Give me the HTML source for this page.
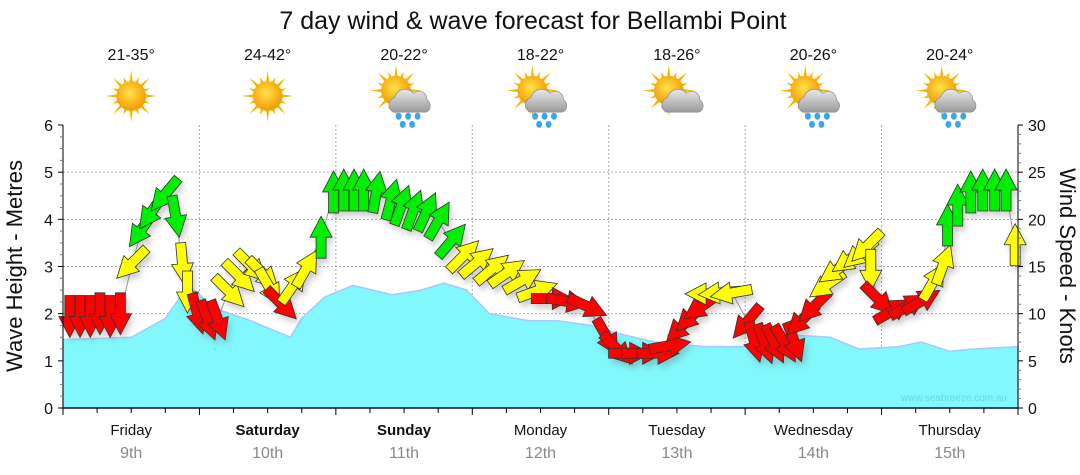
<!DOCTYPE html>
<html><head><meta charset="utf-8"><style>
html,body{margin:0;padding:0;background:#fff;}
svg{display:block;font-family:"Liberation Sans",sans-serif;}
</style></head><body>
<svg id="chart" width="1080" height="475" viewBox="0 0 1080 475">
<defs>
<filter id="sh" x="-50%" y="-50%" width="200%" height="200%"><feGaussianBlur stdDeviation="3"/></filter>
<radialGradient id="sunG" cx="45%" cy="40%" r="60%"><stop offset="0" stop-color="#ffe14a"/><stop offset="1" stop-color="#f29a00"/></radialGradient>
<linearGradient id="cloudG" x1="0" y1="0" x2="0" y2="1"><stop offset="0" stop-color="#e8e8e8"/><stop offset="1" stop-color="#9a9a9a"/></linearGradient>
</defs>
<text x="533" y="29" font-size="25" text-anchor="middle" fill="#111">7 day wind &amp; wave forecast for Bellambi Point</text>
<g id="grid"></g>
<g id="wave"></g>
<g id="wind"></g>
<g id="axes"></g>
<g id="icons"></g>
<text x="1007" y="401" font-size="10" text-anchor="end" fill="#6cd6e0">www.seabreeze.com.au</text>
<text transform="translate(22,266) rotate(-90)" font-size="22" text-anchor="middle" fill="#111">Wave Height - Metres</text>
<text transform="translate(1060,266) rotate(90)" font-size="22" text-anchor="middle" fill="#111">Wind Speed - Knots</text>
</svg>
<script>
const dayNames=["Friday","Saturday","Sunday","Monday","Tuesday","Wednesday","Thursday"];
const dayDates=["9th","10th","11th","12th","13th","14th","15th"];
const dayBold=[false,true,true,false,false,false,false];
const tempRanges=["21-35°","24-42°","20-22°","18-22°","18-26°","20-26°","20-24°"];
const weatherTypes=["sun","sun","rain","rain","cloud","rain","rain"];
const waveTicks=[0,1,2,3,4,5,6];
const windTicks=[0,5,10,15,20,25,30];
const waveHours=[0,12,18,22,27,33,40,42,46,51,58,63,67,71,75,82,87,93,97,104,113,122,128,135,140,147,151,156,160,168];
const waveHeights=[1.45,1.5,1.9,2.6,2.1,1.85,1.5,1.9,2.35,2.6,2.4,2.5,2.65,2.5,2.0,1.85,1.85,1.75,1.6,1.4,1.3,1.3,1.55,1.5,1.25,1.3,1.4,1.2,1.25,1.3];
const windHours=[1.2,3.0,4.8,6.5,8.3,10.1,12.2,13.9,15.7,18.0,19.8,21.0,21.9,23.6,25.4,27.2,29.1,30.9,33.0,35.1,36.2,38.3,40.4,42.7,45.4,47.6,49.4,51.2,52.9,55.1,57.7,59.5,61.6,63.9,66.0,68.3,70.4,72.7,75.4,78.0,80.7,83.3,85.9,88.6,92.1,95.6,97.4,99.5,101.8,104.5,106.6,108.9,110.6,112.4,113.3,115.6,117.7,120.4,121.6,123.4,125.1,126.9,128.6,130.1,132.2,134.5,136.2,138.5,140.3,141.5,142.1,143.3,145.9,148.6,150.9,153.0,154.8,155.6,157.4,159.7,161.8,163.9,165.9,167.5];
const windSpeeds=[9.8,9.8,9.8,10.1,9.8,10.1,15.4,19.0,20.9,22.7,20.4,15.4,12.4,10.1,9.4,9.4,12.4,14.0,15.1,14.3,12.9,11.1,12.9,14.7,18.0,22.8,23.0,23.0,23.0,22.8,22.0,21.4,20.9,20.7,19.8,17.7,16.1,15.4,14.7,14.3,13.5,12.4,11.6,11.3,10.8,7.6,6.3,5.8,5.8,5.8,6.6,8.7,9.8,10.8,12.1,12.2,12.2,9.2,7.1,6.9,6.9,6.9,7.1,9.4,10.8,13.1,14.7,15.8,16.4,17.2,14.7,11.6,10.3,10.8,11.3,13.3,15.1,19.3,21.4,22.8,23.0,23.0,23.0,17.2];
const windDirs=[180,180,180,180,180,180,225,215,215,220,170,175,180,165,160,160,135,135,135,135,150,135,35,30,0,0,0,0,0,10,15,20,20,25,30,40,45,50,50,55,60,70,90,100,115,150,135,90,90,90,80,225,225,235,270,265,260,220,165,160,155,150,160,225,225,235,235,235,230,225,180,135,60,60,60,30,20,0,0,0,0,0,0,0];

const NS="http://www.w3.org/2000/svg";
const X0=63,X1=1018,Y0=408,Y1=125;
const xs=h=>X0+h*(X1-X0)/168;
const yW=m=>Y0-m*(Y0-Y1)/6;
const yK=k=>Y0-k*(Y0-Y1)/30;
function mk(tag,attrs,parent){const e=document.createElementNS(NS,tag);for(const k in attrs)e.setAttribute(k,attrs[k]);parent.appendChild(e);return e;}
const grid=document.getElementById('grid'),axes=document.getElementById('axes'),wave=document.getElementById('wave'),wind=document.getElementById('wind'),icons=document.getElementById('icons');

waveTicks.forEach(t=>{if(t>0&&t<6){const l=mk('line',{x1:X0,x2:X1,y1:yW(t),y2:yW(t),stroke:'#aaa','stroke-dasharray':'2,2'},grid);}});
for(let d=1;d<7;d++){const l=mk('line',{x1:xs(d*24),x2:xs(d*24),y1:Y1,y2:Y0,stroke:'#aaa','stroke-dasharray':'2,2'},grid);}

let dp='M'+xs(waveHours[0])+','+Y0;
waveHours.forEach((h,i)=>{dp+=' L'+xs(h)+','+yW(waveHeights[i]);});
dp+=' L'+xs(waveHours[waveHours.length-1])+','+Y0+' Z';
const wa=mk('path',{d:dp,fill:'#80f8fc',stroke:'#a8c8ff','stroke-width':1.5},wave);



let lp='';windHours.forEach((h,i)=>{lp+=(i?' L':'M')+xs(h)+','+yK(windSpeeds[i]);});
const wl=mk('path',{d:lp,fill:'none',stroke:'#999','stroke-width':1},wind);


const arrowPts="0,-22 11,-1 5,-1 5,20 -5,20 -5,-1 -11,-1";
const sg=mk('g',{opacity:0.35,filter:'url(#sh)'},wind);
windHours.forEach((h,i)=>{mk('polygon',{points:arrowPts,fill:'#777',transform:`translate(${xs(h)+3},${yK(windSpeeds[i])+5}) rotate(${windDirs[i]})`},sg);});
windHours.forEach((h,i)=>{
 const k=windSpeeds[i];const c=k>=17.5?'#00ee00':(k>=12?'#ffff00':'#ff0000');
 const a=mk('polygon',{points:arrowPts,fill:c,stroke:'#333','stroke-width':0.8,transform:`translate(${xs(h)},${yK(k)}) rotate(${windDirs[i]})`},wind);
 
 
});

mk('line',{x1:X0,x2:X0,y1:Y1,y2:Y0,stroke:'#000'},axes);
mk('line',{x1:X1,x2:X1,y1:Y1,y2:Y0,stroke:'#000'},axes);
mk('line',{x1:X0,x2:X1,y1:Y0,y2:Y0,stroke:'#0a1a4a','stroke-width':1.5},axes);
for(let m=0;m<=24;m++){const y=Y0-m*(Y0-Y1)/24;mk('line',{x1:X0-(m%4?3:5),x2:X0,y1:y,y2:y,stroke:m%4?'#777':'#000'},axes);}
for(let k=0;k<=30;k++){const y=yK(k);mk('line',{x1:X1,x2:X1+(k%5?3:5),y1:y,y2:y,stroke:k%5?'#777':'#000'},axes);}
waveTicks.forEach(t=>{const e=mk('text',{x:X0-10,y:yW(t)+6,'font-size':16,'text-anchor':'end',fill:'#111'},axes);e.textContent=t;});
windTicks.forEach(t=>{const e=mk('text',{x:X1+10,y:yK(t)+6,'font-size':16,'text-anchor':'start',fill:'#111'},axes);e.textContent=t;});
for(let q=0;q<=28;q++){mk('line',{x1:xs(q*6),x2:xs(q*6),y1:Y0,y2:Y0+(q%4?5:7),stroke:'#000'},axes);}
dayNames.forEach((n,i)=>{const cx=xs(i*24+12);
 const t=mk('text',{x:cx,y:435,'font-size':15,'text-anchor':'middle',fill:'#111','font-weight':dayBold[i]?'bold':'normal'},axes);t.textContent=n;
 const d=mk('text',{x:cx,y:458,'font-size':16,'text-anchor':'middle',fill:'#888'},axes);d.textContent=dayDates[i];
 const r=mk('text',{x:cx,y:60,'font-size':16,'text-anchor':'middle',fill:'#111'},icons);r.textContent=tempRanges[i];
 const g=mk('g',{transform:`translate(${cx},96) scale(1.35)`},icons);
 
 
 const type=weatherTypes[i];const sx=type==='sun'?0:-6,sy=type==='sun'?0:-4;
 for(let a=0;a<16;a++){const ang=a*Math.PI/8;const L=a%2?15:19;
  mk('polygon',{points:`${sx+Math.cos(ang-0.13)*10},${sy+Math.sin(ang-0.13)*10} ${sx+Math.cos(ang)*L},${sy+Math.sin(ang)*L} ${sx+Math.cos(ang+0.13)*10},${sy+Math.sin(ang+0.13)*10}`,fill:'#f5b800'},g);}
 mk('circle',{cx:sx,cy:sy,r:11,fill:'url(#sunG)'},g);
 if(type!=='sun'){
  mk('path',{d:'M-8,12 a6,6 0 0 1 1,-11 a8,8 0 0 1 14,-3 a6,6 0 0 1 10,5 a5,5 0 0 1 -1,9 Z',fill:'url(#cloudG)',stroke:'#888','stroke-width':0.5},g);
  if(type==='rain'){[[-4,15],[3,15],[10,15],[-1,21],[6,21]].forEach(p=>{mk('ellipse',{cx:p[0],cy:p[1],rx:2.2,ry:2.6,fill:'#3aa8e8'},g);});}
 }
});
</script>
</body></html>
